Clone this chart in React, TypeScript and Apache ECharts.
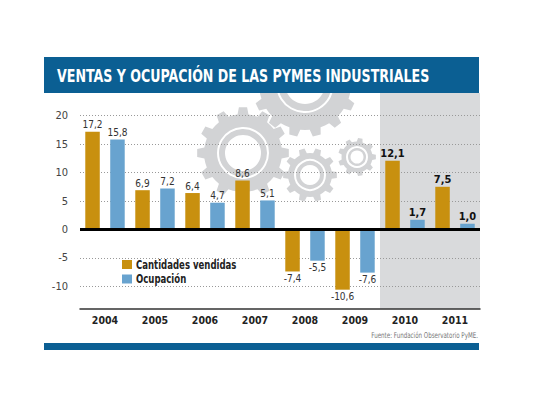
import React, { useEffect, useRef } from "react";
import * as echarts from "echarts";

const years = ["2004", "2005", "2006", "2007", "2008", "2009", "2010", "2011"];
const ventas = [17.2, 6.9, 6.4, 8.6, -7.4, -10.6, 12.1, 7.5];
const ocupacion = [15.8, 7.2, 4.7, 5.1, -5.5, -7.6, 1.7, 1.0];
const highlighted = ["2010", "2011"];
const seriesNames = ["Cantidades vendidas", "Ocupación"];
const titleText = "VENTAS Y OCUPACIÓN DE LAS PYMES INDUSTRIALES";
const sourceText = "Fuente: Fundación Observatorio PyME.";

const FONT = '"DejaVu Sans Condensed", "Liberation Sans", Arial, sans-serif';
const GOLD = "#c8900f";
const BLUE = "#68a3cf";
const NAVY = "#0b5f93";
const GEAR = "#d2d3d5";
const BAND = "#d9dadc";

const GRID = { left: 80, right: 60, top: 93, bottom: 96 };
const W = 540;
const H = 405;

function gearPoints(cx: number, cy: number, rOut: number, rIn: number, n: number) {
  const pts: number[][] = [];
  const step = (Math.PI * 2) / n;
  for (let i = 0; i < n; i++) {
    const a = i * step;
    const seq: [number, number][] = [
      [a - 0.27 * step, rIn],
      [a - 0.17 * step, rOut],
      [a + 0.17 * step, rOut],
      [a + 0.27 * step, rIn],
      [a + 0.5 * step, rIn],
    ];
    for (const [ang, r] of seq) pts.push([cx + r * Math.cos(ang), cy + r * Math.sin(ang)]);
  }
  return pts;
}

function gear(cx: number, cy: number, rOut: number, rIn: number, n: number, ring: number, hole: number) {
  return [
    { type: "polygon", z: -5, shape: { points: gearPoints(cx, cy, rOut, rIn, n) }, style: { fill: GEAR } },
    { type: "circle", z: -4, shape: { cx, cy, r: ring }, style: { fill: "none", stroke: "#fff", lineWidth: 2 } },
    { type: "circle", z: -4, shape: { cx, cy, r: hole }, style: { fill: "#fff" } },
  ];
}

function fmt(v: number) {
  return v.toFixed(1).replace(".", ",");
}

function makeData(vals: number[]) {
  return vals.map((v, i) => {
    const hi = highlighted.includes(years[i]);
    return {
      value: v,
      label: {
        position: v < 0 ? "bottom" : "top",
        fontWeight: hi ? "bold" : "normal",
        color: hi ? "#111" : "#333",
        fontSize: hi ? 11 : 10,
      },
    };
  });
}

export default function App() {
  const ref = useRef<HTMLDivElement>(null);
  useEffect(() => {
    if (!ref.current) return;
    const chart = echarts.init(ref.current, null, { renderer: "svg", width: W, height: H });
    const plotW = W - GRID.left - GRID.right;
    const plotH = H - GRID.top - GRID.bottom;
    const catW = plotW / years.length;
    const bandStart = years.indexOf(highlighted[0]);
    const bandX = GRID.left + bandStart * catW;
    const bandW = catW * highlighted.length;
    const colors = [GOLD, BLUE];

    const legendItems: any[] = seriesNames.flatMap((name, i) => [
      { type: "rect", z: 50, shape: { x: 122, y: 260 + i * 14.5, width: 10, height: 9 }, style: { fill: colors[i] } },
      {
        type: "text",
        z: 50,
        x: 136,
        y: 265 + i * 14.5,
        scaleX: 0.76,
        style: { text: name, fill: "#222", font: `bold 12.5px ${FONT}`, verticalAlign: "middle" },
      },
    ]);

    const graphics: any[] = [
      { type: "rect", z: -10, shape: { x: bandX, y: GRID.top, width: bandW, height: plotH }, style: { fill: BAND } },
      ...gear(305, 84, 53, 46, 14, 28, 20),
      ...gear(243, 153, 46, 39, 12, 25, 18),
      ...gear(310, 175, 27, 22, 10, 15, 10),
      ...gear(357, 157, 19, 15.5, 9, 10, 6.5),
      { type: "rect", z: 99, shape: { x: 0, y: 0, width: W, height: 57 }, style: { fill: "#fff" } },
      { type: "rect", z: 100, shape: { x: 44, y: 57, width: 435, height: 36 }, style: { fill: NAVY } },
      {
        type: "text",
        z: 101,
        x: 57,
        y: 76,
        scaleX: 0.78,
        style: { text: titleText, fill: "#fff", font: `bold 18px ${FONT}`, verticalAlign: "middle" },
      },
      { type: "rect", z: 100, shape: { x: 44, y: 343, width: 435, height: 7 }, style: { fill: NAVY } },
      {
        type: "text",
        z: 100,
        x: 478,
        y: 335,
        scaleX: 0.77,
        originX: 0,
        style: { text: sourceText, fill: "#777", font: `8px ${FONT}`, align: "right", verticalAlign: "middle" },
      },
      ...legendItems,
    ];

    const labelBase = {
      show: true,
      distance: 2,
      fontFamily: FONT,
      formatter: (p: any) => fmt(p.value),
    };

    chart.setOption({
      animation: false,
      backgroundColor: "#fff",
      grid: { left: GRID.left, right: GRID.right, top: GRID.top, bottom: GRID.bottom, containLabel: false },
      xAxis: {
        type: "category",
        data: years,
        axisLine: { onZero: false, lineStyle: { color: "#333", width: 1.5 } },
        axisTick: { show: false },
        axisLabel: { margin: 5, fontFamily: FONT, fontWeight: "bold", fontSize: 10.5, color: "#222" },
      },
      yAxis: {
        type: "value",
        min: -14,
        max: 24,
        splitNumber: 8,
        axisLine: { show: false },
        axisTick: { show: false },
        axisLabel: { margin: 12, fontFamily: FONT, fontSize: 11, color: "#444", showMinLabel: false, showMaxLabel: false },
        splitLine: { show: true, showMinLine: false, showMaxLine: false, lineStyle: { color: "#999", type: [1, 2], width: 1 } },
      },
      graphic: graphics,
      series: [
        {
          name: seriesNames[0],
          type: "bar",
          data: makeData(ventas),
          barWidth: 14.5,
          barGap: "72%",
          itemStyle: { color: GOLD },
          label: labelBase,
          markLine: {
            silent: true,
            symbol: "none",
            label: { show: false },
            lineStyle: { color: "#000", width: 3, type: "solid" },
            data: [{ yAxis: 0 }],
          },
        },
        {
          name: seriesNames[1],
          type: "bar",
          data: makeData(ocupacion),
          barWidth: 14.5,
          itemStyle: { color: BLUE },
          label: labelBase,
        },
      ],
    });
    return () => chart.dispose();
  }, []);
  return <div ref={ref} style={{ position: "fixed", left: 0, top: 0, width: W, height: H }} />;
}
